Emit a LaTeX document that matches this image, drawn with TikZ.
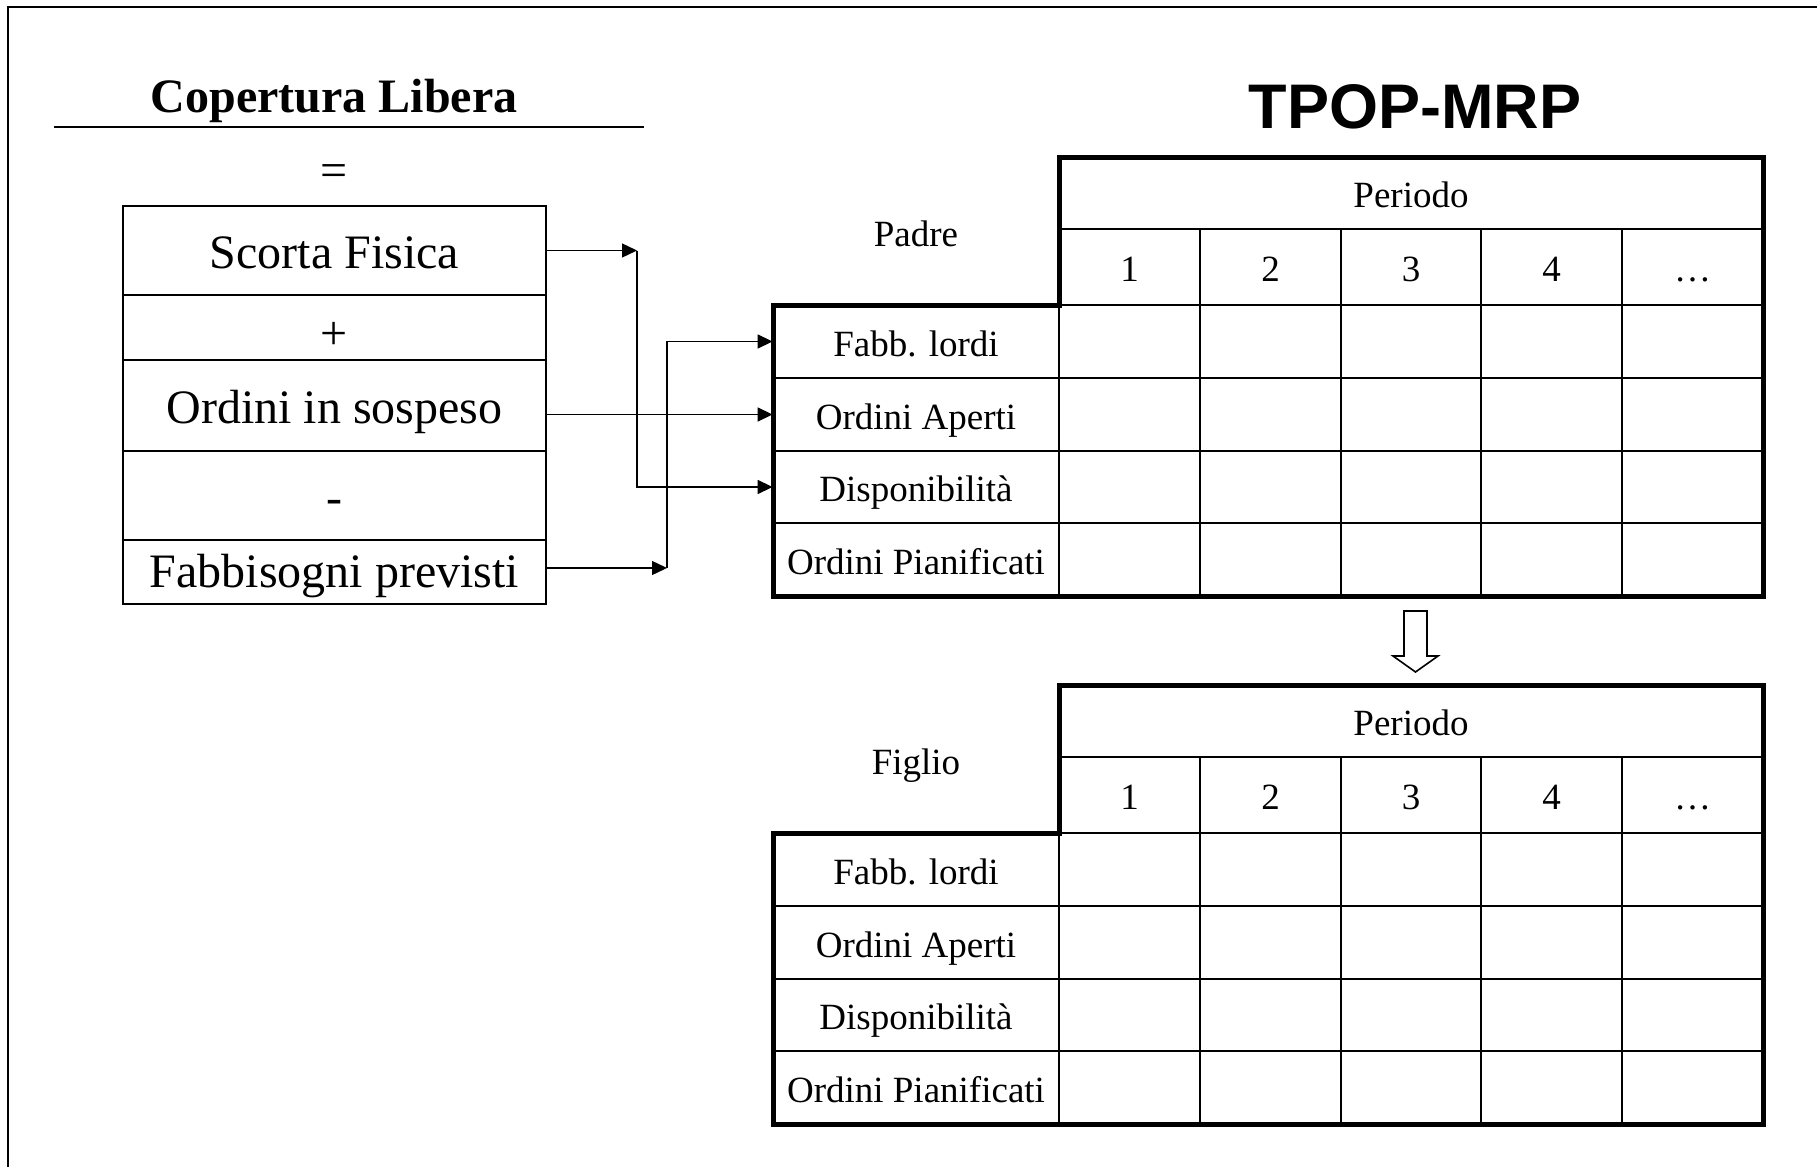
\documentclass[tikz,border=0pt]{standalone}
\usepackage{fontspec}
\setmainfont{Liberation Serif}
\setsansfont{Liberation Sans}
\usetikzlibrary{arrows.meta}
\tikzset{
  bigtxt/.style={font=\fontsize{24pt}{28pt}\selectfont, text height=20pt, text depth=2.2pt, inner sep=0pt},
  tab/.style={font=\fontsize{18.5pt}{22pt}\selectfont, text height=18pt, text depth=3.2pt, inner sep=0pt},
  cell/.style 2 args={minimum width=#1*0.5pt, minimum height=#2*0.5pt, inner sep=0pt},
  gridline/.style={line width=1pt},
  frameline/.style={line width=2.5pt},
  boxline/.style={draw, line width=1pt},
  conn/.style={line width=0.7pt, -{Triangle[length=7.5pt,width=7pt]}},
}
\newcommand\mrptable[3]{%
\begin{scope}[shift={(0,#2)}]
  \node[tab] (#1-own) at (916,75) {#3};
  \node[tab, cell={704}{72}] (#1-per) at (1411,36) {Periodo};
  \foreach \xc/\t [count=\i] in {1129.5/1,1270.5/2,1411/3,1551.5/4,1692.5/…}
    \node[tab, cell={141}{76}] (#1-c\i) at (\xc,110) {\t};
  \foreach \yc/\t [count=\i] in {184.5/Fabb. lordi,257.5/Ordini Aperti,330/Disponibilità,402.5/Ordini Pianificati}
    \node[tab, cell={286}{73}] (#1-r\i) at (916,\yc) {\t};
  \draw[gridline] (1059,72) -- (1763,72);
  \draw[gridline] (1059,148) -- (1763,148);
  \foreach \yy in {221,294,366} \draw[gridline] (773,\yy) -- (1763,\yy);
  \foreach \xx in {1200,1341,1481,1622} \draw[gridline] (\xx,72) -- (\xx,439);
  \draw[gridline] (1059,148) -- (1059,439);
  \draw[frameline] (1059,0) -- (1763,0) -- (1763,439) -- (773,439) -- (773,148) -- (1059,148) -- cycle;
\end{scope}}
\begin{document}
\begin{tikzpicture}[x=0.5pt, y=-0.5pt]
\useasboundingbox (0,0) rectangle (1817,1167);
\fill[white] (0,0) rectangle (1817,1167);
% outer frame (only top and left visible)
\draw[line width=1pt] (8,1167) -- (8,7) -- (1817,7);

% title left
\node[font=\fontsize{24pt}{28pt}\selectfont\bfseries, inner sep=0pt] (title) at (334,101) {Copertura Libera};
\draw[line width=0.8pt] (54,127) -- (644,127);
\node[bigtxt] (eq) at (334,169) {=};

% left box
\node[bigtxt, boxline, cell={423}{89}] (sf) at (334.5,250.5) {Scorta Fisica};
\node[bigtxt, boxline, cell={423}{65}, text height=22pt, text depth=0pt] (plus) at (334.5,327.5) {+};
\node[bigtxt, boxline, cell={423}{91}] (os) at (334.5,405.5) {Ordini in sospeso};
\node[bigtxt, boxline, cell={423}{89}] (minus) at (334.5,495.5) {-};
\node[bigtxt, boxline, cell={423}{64}, text height=18pt, text depth=3pt] (fp) at (334.5,572) {Fabbisogni previsti};

% right title
\node[font=\fontsize{31.5pt}{36pt}\selectfont\sffamily\bfseries, inner sep=0pt] (tpop) at (1415,107) {TPOP-MRP};

% tables
\mrptable{p}{157}{Padre}
\mrptable{f}{685}{Figlio}

% down arrow between tables
\draw[line width=0.8pt, fill=white] (1404,611) -- (1427,611) -- (1427,656) -- (1438,656)
  -- (1415.5,672) -- (1393,656) -- (1404,656) -- cycle;

% connectors
\coordinate (c1) at (637,250.5);
\coordinate (c2) at (667,568);
\draw[conn] (sf.east) -- (c1);
\draw[conn] (c1) |- (p-r3.west);
\draw[conn] (os.east |- p-r2.west) -- (p-r2.west);
\draw[conn] (fp.east |- c2) -- (c2);
\draw[conn] (c2) |- (p-r1.west);
\end{tikzpicture}
\end{document}
